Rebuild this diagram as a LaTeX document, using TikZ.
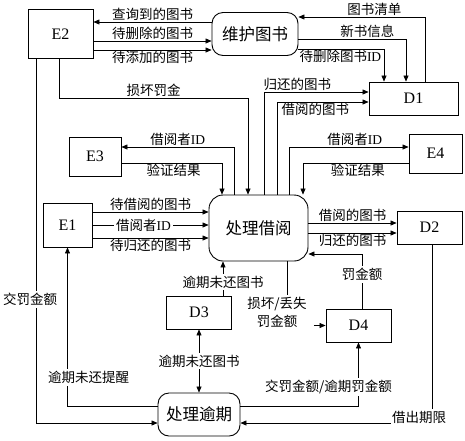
\documentclass[tikz,border=0pt]{standalone}
\usepackage{fontspec}
\setmainfont{Liberation Serif}
\newfontfamily\cjk{Noto Sans CJK SC}
\usepackage{tikz}
\usetikzlibrary{arrows.meta, positioning, calc}

\begin{document}
\begin{tikzpicture}[
    x=1pt, y=-1pt,
    >={Triangle[length=6pt, width=5pt]},
    every path/.style={line width=0.6pt},
    ext/.style={draw, line width=0.9pt, minimum width=52pt, minimum height=39pt, inner sep=0pt, font=\fontsize{16}{18}\selectfont},
    store/.style={ext, minimum width=65pt, minimum height=33pt},
    proc/.style={draw, line width=0.9pt, rounded corners=11pt, inner sep=0pt, font=\cjk\fontsize{16.5}{18}\selectfont},
    lbl/.style={inner sep=1pt, font=\cjk\fontsize{13.5}{18}\selectfont},
    onlbl/.style={lbl, fill=white, inner sep=2pt},
]
    \useasboundingbox (0,0) rectangle (465,440);

    % entities and stores
    \node[ext, minimum width=65pt, minimum height=49pt] (E2) at (60.5,34) {E2};
    \node[ext] (E3) at (95,156.5) {E3};
    \node[ext, minimum width=49pt, minimum height=44pt] (E1) at (67.5,225) {E1};
    \node[ext, minimum width=53pt] (E4) at (435.5,153.5) {E4};
    \node[store, minimum width=89pt] (D1) at (413.5,98.5) {D1};
    \node[store] (D2) at (429.5,227.5) {D2};
    \node[store] (D3) at (199,312.5) {D3};
    \node[store] (D4) at (358.5,325.5) {D4};

    % processes
    \node[proc, minimum width=86pt, minimum height=43pt] (maint) at (255,34) {维护图书};
    \node[proc, minimum width=99pt, minimum height=66pt, rounded corners=14pt] (borrow) at (258.5,228) {处理借阅};
    \node[proc, minimum width=82pt, minimum height=43pt] (overdue) at (199,414.5) {处理逾期};

    % E2 <-> maint
    \draw[->] (maint.west |- 0,22) -- node[lbl, above] {查询到的图书} (E2.east |- 0,22);
    \draw[->] (E2.east |- 0,41) -- node[lbl, above] {待删除的图书} (maint.west |- 0,41);
    \draw[->] (E2.east |- 0,50) -- node[lbl, below] {待添加的图书} (maint.west |- 0,50);
    \draw[->] (E2.south -| 59,0) -- (59,98) -| node[lbl, pos=0.25, above] {损坏罚金} (borrow.north -| 248,0);
    \draw[->] (E2.south -| 36,0) |- node[onlbl, pos=0.33, xshift=-6pt] {交罚金额} (overdue.west |- 0,423);

    % maint <-> D1
    \draw[->] (D1.north -| 425,0) |- node[lbl, pos=0.7, above] {图书清单} (maint.east |- 0,17);
    \draw[->] (maint.east |- 0,39) -| node[lbl, pos=0.32, above] {新书信息} (D1.north -| 406,0);
    \draw[->] (maint.east |- 0,49) -| node[lbl, pos=0.245, below] {待删除图书\textrm{ID}} (D1.north -| 384,0);

    % borrow -> D1
    \draw[->] (borrow.north -| 264,0) |- node[lbl, pos=0.66, above] {归还的图书} (D1.west |- 0,92);
    \draw[->] (borrow.north -| 277,0) |- node[lbl, pos=0.71, below] {借阅的图书} (D1.west |- 0,102);

    % E3, E4
    \draw[->] (borrow.north -| 234,0) |- node[lbl, pos=0.75, above] {借阅者\textrm{ID}} (E3.east |- 0,147);
    \draw[->] (E3.east |- 0,163) -| node[lbl, pos=0.26, below] {验证结果} (borrow.north -| 222,0);
    \draw[->] (borrow.north -| 289,0) |- node[lbl, pos=0.775, above] {借阅者\textrm{ID}} (E4.west |- 0,147);
    \draw[->] (E4.west |- 0,163) -| node[lbl, pos=0.24, below] {验证结果} (borrow.north -| 303,0);

    % E1 -> borrow
    \draw[->] (E1.east |- 0,212) -- node[lbl, above] {待借阅的图书} (borrow.west |- 0,212);
    \draw[->] (E1.east |- 0,225) -- node[onlbl, pos=0.44] {借阅者\textrm{ID}} (borrow.west |- 0,225);
    \draw[->] (E1.east |- 0,238) -- node[lbl, below] {待归还的图书} (borrow.west |- 0,238);

    % borrow -> D2
    \draw[->] (borrow.east |- 0,223) -- node[lbl, above] {借阅的图书} (D2.west |- 0,223);
    \draw[->] (borrow.east |- 0,233) -- node[lbl, below] {归还的图书} (D2.west |- 0,233);

    % D4, D3 -> borrow
    \draw[->] (D4.north -| 362,0) |- node[onlbl, pos=0.31] {罚金额} (borrow.east |- 0,254);
    \draw[->] (D3.north -| 223,0) -- node[onlbl, pos=0.4] {逾期未还图书} (borrow.south -| 223,0);

    % borrow -> D4
    \node[lbl, align=center] (lossfee) at (277,312) {损坏/丢失\\罚金额};
    \draw (borrow.south -| 287,0) -- (lossfee.north -| 287,0);
    \draw[->] ([xshift=6pt]lossfee.east |- D4.west) -- (D4.west);

    % overdue
    \draw[<->] (D3.south) -- node[onlbl] {逾期未还图书} (overdue.north);
    \draw[->] (overdue.west |- 0,406) -| node[onlbl, pos=0.59, xshift=21pt] {逾期未还提醒} (E1.south);
    \draw[->] (overdue.east |- 0,406) -| node[onlbl, pos=0.65, xshift=-30pt] {交罚金额/逾期罚金额} (D4.south);

    % D2 -> overdue
    \node[lbl] (deadline) at (419,417) {借出期限};
    \draw (D2.south -| 432,0) -- (deadline.north -| 432,0);
    \draw[->] (deadline.west |- 0,423) -- (overdue.east |- 0,423);
\end{tikzpicture}
\end{document}
